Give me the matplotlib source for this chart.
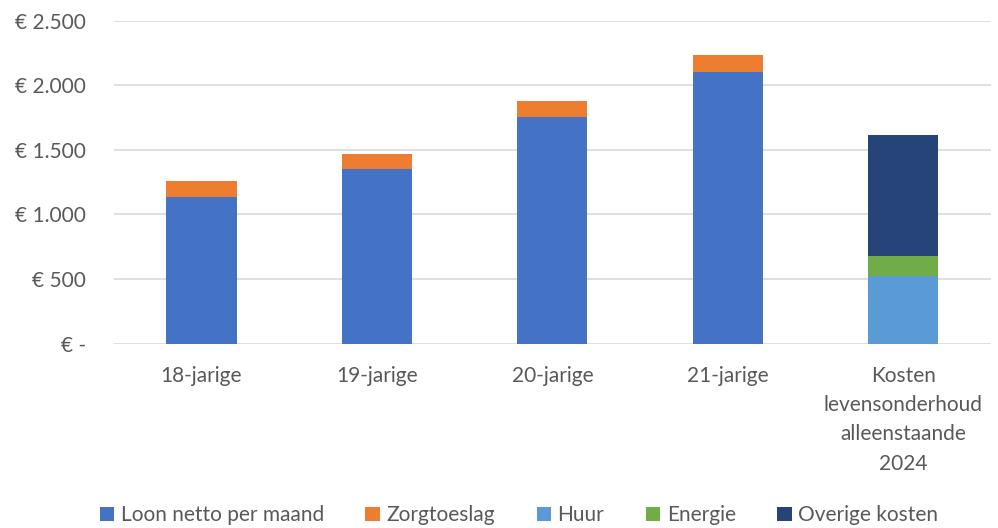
import matplotlib.pyplot as plt
import numpy as np

categories = ['18-jarige', '19-jarige', '20-jarige', '21-jarige',
              'Kosten\nlevensonderhoud\nalleenstaande\n2024']
loon = [1133, 1350, 1753, 2105, 0]
zorgtoeslag = [124, 121, 127, 126, 0]
huur = [0, 0, 0, 0, 526]
energie = [0, 0, 0, 0, 152]
overige = [0, 0, 0, 0, 938]
yticks = [0, 500, 1000, 1500, 2000, 2500]
ytick_labels = ['€ -', '€ 500', '€ 1.000', '€ 1.500', '€ 2.000', '€ 2.500']

series = [
    ('Loon netto per maand', loon, '#4472C4'),
    ('Zorgtoeslag', zorgtoeslag, '#ED7D31'),
    ('Huur', huur, '#5B9BD5'),
    ('Energie', energie, '#70AD47'),
    ('Overige kosten', overige, '#264478'),
]

plt.rcParams['font.family'] = ['Lato', 'DejaVu Sans']
text_color = '#595959'
fs = 15

fig = plt.figure(figsize=(9.98, 5.28), dpi=100)
ax = fig.add_axes([0.114, 0.3494, 0.879, 0.6116])

x = np.arange(len(categories))
bottom = np.zeros(len(categories))
handles = []
for name, vals, color in series:
    vals = np.array(vals, dtype=float)
    b = ax.bar(x, vals, width=0.4, bottom=bottom, color=color, label=name, zorder=3)
    handles.append(b)
    bottom += vals

ax.set_xlim(-0.5, len(categories) - 0.5)
ax.set_ylim(0, 2500)
ax.set_yticks(yticks)
ax.set_yticklabels(ytick_labels, fontsize=fs, color=text_color)
ax.set_xticks(x)
ax.set_xticklabels(categories, fontsize=fs, color=text_color, linespacing=1.58)
ax.tick_params(axis='both', length=0)
ax.tick_params(axis='y', pad=20)
ax.tick_params(axis='x', pad=16)
ax.grid(axis='y', color='#d9d9d9', linewidth=1.2, zorder=0)
for s in ax.spines.values():
    s.set_visible(False)

fig.legend(handles=handles, loc='lower center', bbox_to_anchor=(0.52, -0.03), ncol=5,
           frameon=False, fontsize=fs, handlelength=0.7, handleheight=0.7,
           handletextpad=0.3, columnspacing=2.0, labelcolor=text_color,
           borderaxespad=0.5)

fig.savefig('out.png', dpi=100)
